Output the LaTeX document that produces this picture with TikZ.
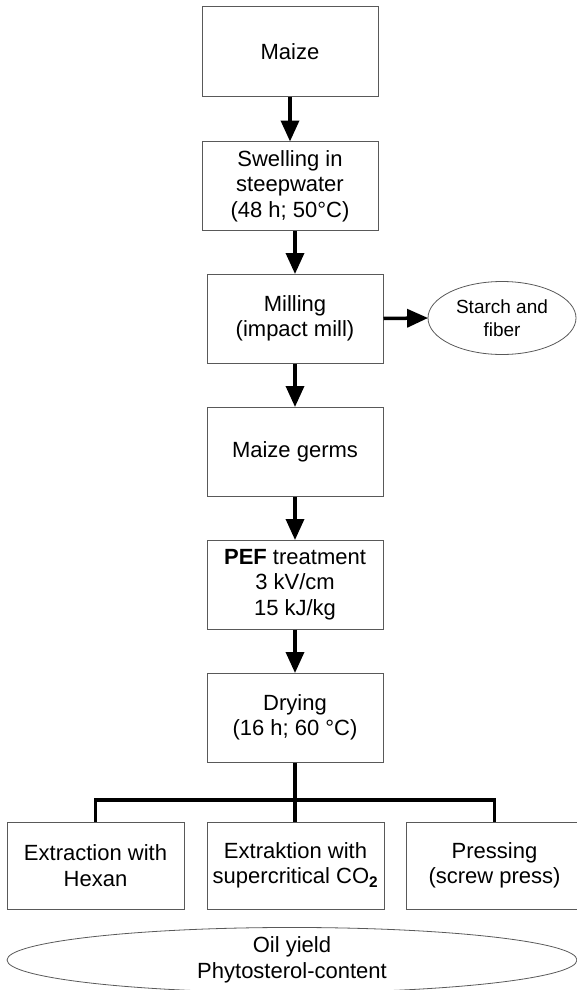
\documentclass[tikz,border=0pt]{standalone}
\usepackage{fontspec}
\setmainfont{Liberation Sans}
\usetikzlibrary{shapes.geometric,arrows.meta}
\begin{document}
\begin{tikzpicture}[x=1pt,y=-1pt,
  box/.style={draw=black!65, line width=1pt, minimum width=176pt, minimum height=89pt, align=center, inner sep=2pt, font=\fontsize{22}{25.5}\selectfont},
  oval/.style={ellipse, draw=black!65, line width=0.8pt, align=center, inner sep=0pt, font=\fontsize{22}{25.5}\selectfont},
  flow/.style={line width=3.5pt, -{Triangle[length=21pt,width=18pt]}, shorten >=-0.5pt},
  link/.style={line width=3.5pt}]
\useasboundingbox (0,0) rectangle (576,990);
\node[box] (maize) at (290,51.5) {Maize};
\node[box] (swell) at (290,186) {Swelling in\\steepwater\\(48 h; 50°C)};
\node[box] (mill) at (295,318.5) {Milling\\(impact mill)};
\node[box] (germs) at (295,451.5) {Maize germs};
\node[box] (pef) at (295,584.5) {\textbf{PEF} treatment\\3 kV/cm\\15 kJ/kg};
\node[box] (dry) at (295,717.5) {Drying\\(16 h; 60 °C)};
\node[oval, minimum width=148pt, minimum height=73pt, font=\fontsize{19}{23}\selectfont] (starch) at (502,318) {Starch and\\fiber};
\node[box, minimum width=177pt, minimum height=87pt] (hex) at (95.5,865.5) {Extraction with\\Hexan};
\node[box, minimum width=177pt, minimum height=87pt] (co2) at (295.5,865.5) {Extraktion with\\supercritical CO\textsubscript{\textbf{2}}};
\node[box, minimum width=177pt, minimum height=87pt] (press) at (494.5,865.5) {Pressing\\(screw press)};
\node[oval, minimum width=570pt, minimum height=62pt] (oil) at (292,960) {Oil yield\\Phytosterol-content};
\coordinate (bar) at (295,800);
\draw[flow] (maize) -- (swell);
\draw[flow] (swell.south -| mill.north) -- (mill.north);
\draw[flow] (mill) -- (germs);
\draw[flow] (germs) -- (pef);
\draw[flow] (pef) -- (dry);
\draw[flow] (mill.east) -- (starch.west);
\draw[link] (dry.south) -- (bar);
\draw[link] (hex.north) |- (bar) -| (press.north);
\draw[link] (bar) -- (bar |- co2.north);
\end{tikzpicture}
\end{document}
